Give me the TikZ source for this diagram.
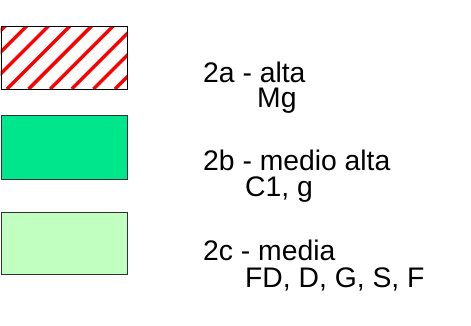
\documentclass[tikz,border=0pt]{standalone}
\usepackage{fontspec}
\setmainfont{Liberation Sans}
\definecolor{midgreen}{RGB}{0,230,140}
\definecolor{lightgreen}{RGB}{192,255,192}
\definecolor{hatchred}{RGB}{255,0,0}
\begin{document}
\begin{tikzpicture}[x=1pt,y=1pt,
  legbox/.style={draw=black,line width=1.4pt},
  lbl/.style={anchor=base west,inner sep=0pt,font=\fontsize{28.3}{32}\selectfont}]
\useasboundingbox (0,0) rectangle (471,-325);
% box 1: hatched
\begin{scope}
\clip (0.7,-26) rectangle (127,-89);
\fill[white] (0,-26) rectangle (127,-89);
\foreach \k in {-4,...,6} {
  \draw[hatchred,line width=3.4pt] ({7+21.6*\k},-89) -- ++(70,70);
}
\end{scope}
\node[legbox,minimum width=126.3pt,minimum height=63pt,inner sep=0pt,anchor=north west] (b1) at (0.7,-26) {};
\node[legbox,fill=midgreen,draw=black!80,minimum width=126.3pt,minimum height=64pt,inner sep=0pt,anchor=north west] (b2) at (0.7,-114.5) {};
\node[legbox,fill=lightgreen,draw=black!80,minimum width=126.3pt,minimum height=62pt,inner sep=0pt,anchor=north west] (b3) at (0.7,-211.5) {};
% labels
\node[lbl] (t1) at (203,-82) {2a - alta};
\node[lbl] (t1b) at (257,-107.5) {Mg};
\node[lbl] (t2) at (203,-170.5) {2b - medio alta};
\node[lbl] (t2b) at (245,-196.5) {C1, g};
\node[lbl] (t3) at (203,-260) {2c - media};
\node[lbl] (t3b) at (245,-287) {FD, D, G, S, F};
\end{tikzpicture}
\end{document}
